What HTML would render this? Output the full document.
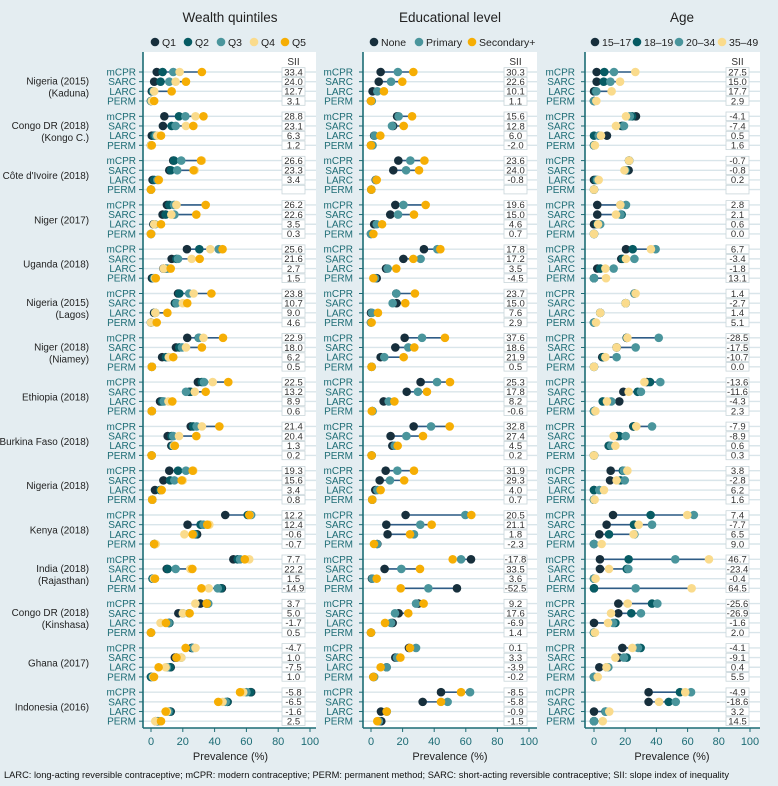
<!DOCTYPE html>
<html><head><meta charset="utf-8"><style>
body{margin:0;background:#e4edf1;font-family:"Liberation Sans",sans-serif}
svg{display:block}
</style></head><body>
<svg id="chart" width="778" height="786" xmlns="http://www.w3.org/2000/svg"></svg>
<script>
const countries=["Nigeria (2015)|(Kaduna)","Congo DR (2018)|(Kongo C.)","Côte d'Ivoire (2018)","Niger (2017)","Uganda (2018)","Nigeria (2015)|(Lagos)","Niger (2018)|(Niamey)","Ethiopia (2018)","Burkina Faso (2018)","Nigeria (2018)","Kenya (2018)","India (2018)|(Rajasthan)","Congo DR (2018)|(Kinshasa)","Ghana (2017)","Indonesia (2016)"];
const measures=["mCPR","SARC","LARC","PERM"];
const xTicks=[0,20,40,60,80,100];
const wealthQ1=[3.6,2,0.5,0,8.4,7.5,0.5,0,14,11.5,1,0,10,7.3,1.5,0,22.6,13,7.8,0.6,17,15,1.9,0,22.8,15.7,7,0.5,29.5,24,5.7,0.5,25,10.5,12.8,0.4,11.5,7.8,2.5,0.8,46.7,23,29,2,51.8,9.9,1,44.6,31,17.2,11.5,0,25.6,15,12.4,0,63,48.2,12.4,3];
const wealthQ2=[7.3,6,1,0,17.6,13,2,0,14.5,12.5,2,0,11.5,9.2,2,0,30.4,16,9.4,1.5,17.8,15.5,2.5,0,30,17.8,9.4,0.5,32,25,7,0.5,26.5,13,13.5,0.4,17,12,5.7,0.8,60.8,31.2,28,2.4,54.5,10.5,1,44,35,20,11.5,0,26,16,12,0,62.5,48,12,4];
const wealthQ3=[14,11.5,1.5,0,21.6,15.5,3,0,19,16.5,4,0,14.5,14.7,2.5,0,42.6,17,10.5,2,24,16,2.7,0,30.2,19.5,11,0.5,33.3,22,8,0.5,28.7,14,14,0.4,22,14.7,6.5,0.8,63,33,27,2.5,56,15.5,1.5,42,36,24,11,0,26.5,19,10,1,60,47,11,5];
const wealthQ4=[18,15.5,2,0.5,28,22,4,0,32,27.5,5,0,16,12.8,2,0,37.3,25.6,8,2.5,26.8,20,2.7,0,33,22,11.3,0.5,38.8,27.5,11,0.5,32,17.6,14.5,0.4,26.6,20,6.7,0.8,62,36.7,21,3,61.8,24.7,2,36.3,27.9,20,6,0,28,19,9.2,1.5,58,45,10,2.7];
const wealthQ5=[32,22,13,2,33,26.6,6.3,0.5,31.5,26.8,4.8,0,34.4,28.5,6.3,0,45,30.6,12.4,3,38,22.8,10.3,3.6,45.3,32,14,0.6,48.6,34.4,13.4,0.5,43,28.5,15,0.4,26.2,19.3,6.7,0.8,61.8,35.4,26.2,2,59,26,2.5,31.7,35,24.3,9.4,0,21.8,16,4.8,1.9,56,42.3,9.2,6.3];
const wealthSII=[33.4,24.0,12.7,3.1,28.8,23.1,6.3,1.2,26.6,23.3,3.4,null,26.2,22.6,3.5,0.3,25.6,21.6,2.7,1.5,23.8,10.7,9.0,4.6,22.9,18.0,6.2,0.5,22.5,13.2,8.9,0.6,21.4,20.4,1.3,0.2,19.3,15.6,3.4,0.8,12.2,12.4,-0.6,-0.7,7.7,22.2,1.5,-14.9,3.7,5.0,-1.7,0.5,-4.7,1.0,-7.5,1.0,-5.8,-6.5,-1.6,2.5];
const eduNone=[6.1,4.9,1,0,16.5,14,2,0,17.3,14.1,3,0.2,15.4,12.2,2,0,33.5,20.5,9.5,3.6,16,16.2,0,0,21.3,15.4,6.1,0.4,31.4,22.6,8,0.8,27,12.4,13.5,0.4,9.3,5.5,2.7,0.8,21.9,9.7,10.5,4,63.3,8.6,0.6,54.4,30,17.5,13.7,0,24,15.4,9.9,1.5,44.3,32.7,6.3,6.5];
const eduPrimary=[17,12.7,4,0.5,17.5,13.3,2.3,1,24.9,22.2,3.2,0.2,20.5,17.1,3.6,0,42,31.4,10.5,2.5,16,13.7,0.6,0,32.3,23.6,8.4,0.4,41.8,29.7,11.2,1,38,22.4,15,0.4,16.7,12,4,0.8,59.7,31.2,27.2,3.8,57,19.2,1,36.3,28.5,15.2,12.7,0,28.5,16.5,9.9,2,62.7,48.5,10,5];
const eduSecondary=[26.8,19.8,8.2,0,26,20.7,5.9,0,33.8,30.4,3.6,0.2,34.6,27.2,7,1.5,43.9,26.8,16,1.5,27.8,21.7,4.4,0.4,46.8,27.4,20.7,0.4,50,35.4,14.8,0.5,49.8,32.9,16.9,0.4,27.2,21,6.1,0.8,63.5,38.4,24.7,1.9,51.7,31,3.6,18.8,33.3,23.6,8.9,0,24.7,18.6,6.1,1.5,57,44.3,9.9,4];
const eduSII=[30.3,22.6,10.1,1.1,15.6,12.8,6.0,-2.0,23.6,24.0,-0.8,null,19.6,15.0,4.6,0.7,17.8,17.2,3.5,-4.5,23.7,15.0,7.6,2.9,37.6,18.6,21.9,0.5,25.3,17.8,8.2,-0.6,32.8,27.4,4.5,0.2,31.9,29.3,4.0,0.7,20.5,21.1,1.8,-2.3,-17.8,33.5,3.6,-52.5,9.2,17.6,-6.9,1.4,0.1,3.3,-3.9,-0.2,-8.5,-5.8,-0.9,-1.5];
const age1517=[1.7,1.7,0,0,26.9,17.7,8.3,0,22.5,22.2,0,0,2.1,2.1,0,0,20.5,17.5,2.1,0,26,20.3,4,0,21,14.5,5.3,0,34,18.8,16.2,0,25.2,15,9.4,0,10.7,10.3,0,0,12.2,8.1,3.4,0,3.8,3.8,0,0,15.6,15.6,0,0,18.2,16,3.4,0,35,35,0,0];
const age1819=[6.6,6.2,1,0,24.4,18.5,0,0,22.5,20.5,1,0,17,17.7,2,0,24.8,18.5,4,0,26,20.3,4,0,21,14.5,6,0,35.9,28,5.6,0,25.5,16.2,9.6,0,18.5,17,0,0,36.3,25.6,9.6,0,22.2,21,0,0,37.2,23.9,13.7,0,29.9,20.9,8.1,0,55.1,47.9,7.3,0];
const age2034=[12.8,10.5,1.5,0,23,19.2,3,0,22.5,20,2,0,20.5,17,4,0,39.5,25.9,12.6,0,26,20.3,4,0,41.5,26.7,14.5,0,42.5,30.1,11.1,0,37.2,20.3,11,0,19.2,19.7,3.4,0,64,37.2,25.9,0,52.1,22,0,26.7,40.6,30.1,12.3,0,28.2,19.2,9.2,0,62.2,52.4,7.5,0];
const age3549=[26.5,16.7,11.3,1.5,20.5,14.1,4.5,0.6,22.5,19.5,3,0,16.9,14.1,2.6,0,36.5,20.5,7.3,7.7,26.7,20.3,4,1.3,21.4,14.5,7.3,0,32.3,22.2,8.3,0.9,27.1,12.6,13.7,0,21.4,14.5,6.4,0.4,59.8,28.6,25.4,4.9,73.7,9.6,1,62.6,21.6,10.9,9,0.6,24.6,13.7,8,2.4,58.5,41.7,9.8,5.6];
const ageSII=[27.5,15.0,17.7,2.9,-4.1,-7.4,0.5,1.6,-0.7,-0.8,0.2,null,2.8,2.1,0.6,0.0,6.7,-3.4,-1.8,13.1,1.4,-2.7,1.4,5.1,-28.5,-17.5,-10.7,0.0,-13.6,-11.6,-4.3,2.3,-7.9,-8.9,0.6,0.3,3.8,-2.8,6.2,1.6,7.4,-7.7,6.5,9.0,46.7,-23.4,-0.4,64.5,-25.6,-26.9,-1.6,2.0,-4.1,-9.1,0.4,5.5,-4.9,-18.6,3.2,14.5];

const C1="#172f3c",C2="#075b63",C3="#4a959c",C4="#fadb8c",C5="#f6ae04";
const panels=[
 {title:"Wealth quintiles",cx:230,axisX:143,x0:151,x100:310,right:316,siiX:282,lab:136,country:true,
  series:[["Q1",wealthQ1,C1,155],["Q2",wealthQ2,C2,188],["Q3",wealthQ3,C3,221],["Q4",wealthQ4,C4,254],["Q5",wealthQ5,C5,285]],sii:wealthSII},
 {title:"Educational level",cx:450,axisX:363,x0:371,x100:529,right:537,siiX:504,lab:353,
  series:[["None",eduNone,C1,374],["Primary",eduPrimary,C3,419],["Secondary+",eduSecondary,C5,472]],sii:eduSII},
 {title:"Age",cx:682,axisX:585,x0:594,x100:750,right:760,siiX:726,lab:575,
  series:[["15–17",age1517,C1,595],["18–19",age1819,C2,637],["20–34",age2034,C3,679],["35–49",age3549,C4,722]],sii:ageSII}
];
const NS="http://www.w3.org/2000/svg";
const svg=document.getElementById("chart");
function mk(tag,attrs,parent,text){const e=document.createElementNS(NS,tag);for(const k in attrs)e.setAttribute(k,attrs[k]);if(text!==undefined)e.textContent=text;(parent||svg).appendChild(e);return e;}
const rowY=(g,r)=>72+g*44.3+r*9.67;
const TOP=52,BOT=728;
panels.forEach((p,pi)=>{
 const xs=v=>p.x0+(p.x100-p.x0)*v/100;
 const g=mk("g",{});
 
 
 mk("rect",{x:p.axisX,y:TOP,width:p.right-p.axisX,height:BOT-TOP,fill:"#ffffff"},g);
 const t=mk("text",{x:p.cx,y:22,"text-anchor":"middle","font-size":"13.5",fill:"#222"},g,p.title);
 
 
 p.series.forEach(s=>{
  const lg=mk("g",{},g);
  
  
  mk("circle",{cx:s[3],cy:42,r:4.3,fill:s[2]},lg);
  mk("text",{x:s[3]+7,y:46,"font-size":"10.5",fill:"#222"},lg,s[0]);
 });
 mk("text",{x:p.siiX+11.5,y:65,"text-anchor":"middle","font-size":"10",fill:"#333"},g,"SII");
 for(let c=0;c<countries.length;c++){
  for(let r=0;r<4;r++){
   const y=rowY(c,r),i=c*4+r;
   mk("line",{x1:p.axisX,x2:p.right,y1:y,y2:y,stroke:"#d9e5ea","stroke-width":1.4},g);
   mk("line",{x1:p.axisX-4,x2:p.axisX,y1:y,y2:y,stroke:"#1d6c75","stroke-width":1},g);
   const rl=mk("text",{x:p.lab,y:y+3.5,"text-anchor":"end","font-size":"10",fill:"#1d6c75"},g,measures[r]);
   
   
   const vals=p.series.map(s=>s[1][i]);
   const mn=Math.min(...vals),mx=Math.max(...vals);
   mk("line",{x1:xs(mn),x2:xs(mx),y1:y,y2:y,stroke:"#2f5c86","stroke-width":1.6},g);
   p.series.forEach(s=>{
    const d=mk("circle",{cx:xs(s[1][i]),cy:y,r:4.3,fill:s[2]},g);
    
    
   });
   const sb=mk("rect",{x:p.siiX,y:y-4.3,width:23,height:8.6,fill:"#fff",stroke:"#c9d6da","stroke-width":0.8},g);
   
   
   const v=p.sii[i];
   if(v!==null) mk("text",{x:p.siiX+11.5,y:y+3.3,"text-anchor":"middle","font-size":"9.5",fill:"#333"},g,v.toFixed(1));
  }
  if(p.country){
   const parts=countries[c].split("|");
   const cy=rowY(c,0)+14.5;
   parts.forEach((pt,k)=>{
    const yy=parts.length==1?cy+4:cy-6+k*12+4;
    const cl=mk("text",{x:89,y:yy,"text-anchor":"end","font-size":"9.9",fill:"#222"},g,pt);
    
    
   });
  }
 }
 mk("line",{x1:p.axisX,x2:p.axisX,y1:TOP,y2:BOT,stroke:"#1d6c75","stroke-width":1.6},g);
 mk("line",{x1:p.axisX,x2:p.right,y1:BOT,y2:BOT,stroke:"#1d6c75","stroke-width":1.6},g);
 xTicks.forEach(tv=>{
  mk("line",{x1:xs(tv),x2:xs(tv),y1:BOT,y2:BOT+4,stroke:"#1d6c75","stroke-width":1},g);
  mk("text",{x:xs(tv),y:BOT+17,"text-anchor":"middle","font-size":"11",fill:"#1d6c75"},g,String(tv));
 });
 const xl=mk("text",{x:(p.x0+p.x100)/2,y:BOT+32,"text-anchor":"middle","font-size":"11",fill:"#222"},g,"Prevalence (%)");
 
 
});
const fn=mk("text",{x:4,y:778,"font-size":"9.3",fill:"#111"},svg,"LARC: long-acting reversible contraceptive; mCPR: modern contraceptive; PERM: permanent method; SARC: short-acting reversible contraceptive; SII: slope index of inequality");


</script>
</body></html>
